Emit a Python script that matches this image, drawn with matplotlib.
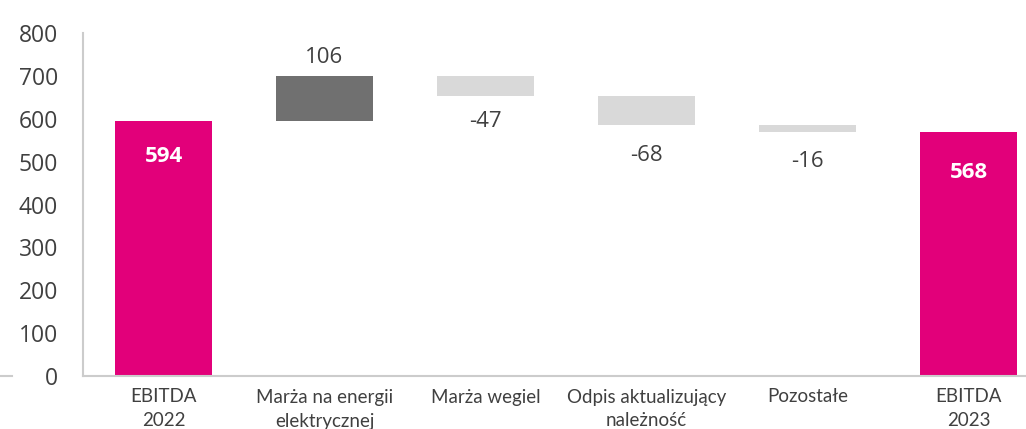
import matplotlib
matplotlib.use("Agg")
import matplotlib.pyplot as plt
from matplotlib.lines import Line2D

categories = ["EBITDA\n2022", "Marża na energii\nelektrycznej", "Marża wegiel",
              "Odpis aktualizujący\nnależność", "Pozostałe", "EBITDA\n2023"]
start_value = 594
deltas = [106, -47, -68, -16]
end_value = 568
y_ticks = [0, 100, 200, 300, 400, 500, 600, 700, 800]

MAGENTA = "#E2007A"
DARK = "#707070"
LIGHT = "#D9D9D9"
TEXT = "#404040"
AXIS = "#CCCCCC"

plt.rcParams['font.family'] = ['Open Sans', 'DejaVu Sans']

fig = plt.figure(figsize=(10.26, 4.29), dpi=100)
ax = fig.add_axes([83/1026, 1-376/429, 1-83/1026, (376-33)/429])

w = 0.6
n = len(categories)
label_offsets = [13.5, -18.5, -21.5, -21.5]  # points, for the delta labels

ax.bar(0, start_value, width=w, color=MAGENTA, zorder=2)
ax.annotate(str(start_value), (0, start_value), xytext=(0, -25), textcoords='offset points',
            ha='center', va='center', color='white', fontsize=16, fontweight='bold')

cur = start_value
for i, d in enumerate(deltas, start=1):
    lo, hi = (cur, cur + d) if d > 0 else (cur + d, cur)
    ax.bar(i, hi - lo, bottom=lo, width=w, color=DARK if d > 0 else LIGHT, zorder=2)
    ref = hi if d > 0 else lo
    ax.annotate(str(d), (i, ref), xytext=(0, label_offsets[i - 1]), textcoords='offset points',
                ha='center', va='center', color=TEXT, fontsize=16)
    cur += d

ax.bar(n - 1, end_value, width=w, color=MAGENTA, zorder=2)
ax.annotate(str(end_value), (n - 1, end_value), xytext=(0, -29), textcoords='offset points',
            ha='center', va='center', color='white', fontsize=16, fontweight='bold')

ax.set_ylim(0, 800)
ax.set_xlim(-0.5, -0.5 + (1026-83)/161)
ax.set_yticks(y_ticks)
ax.set_yticklabels([str(t) for t in y_ticks], fontsize=16.5, color=TEXT)
ax.set_xticks(range(n))
ax.set_xticklabels(categories, fontsize=13.5, color=TEXT, family=['Lato', 'DejaVu Sans'],
                   linespacing=1.5)
ax.tick_params(axis='both', length=0)
ax.tick_params(axis='y', pad=18)
ax.tick_params(axis='x', pad=9)

for s in ['top', 'right']:
    ax.spines[s].set_visible(False)
ax.spines['left'].set_color(AXIS)
ax.spines['bottom'].set_color(AXIS)
ax.spines['left'].set_linewidth(1.5)
ax.spines['bottom'].set_linewidth(1.5)

fig.add_artist(Line2D([0, 12/1026], [1-376/429, 1-376/429], color=AXIS, lw=1.5))

fig.savefig("out.png", dpi=100)
